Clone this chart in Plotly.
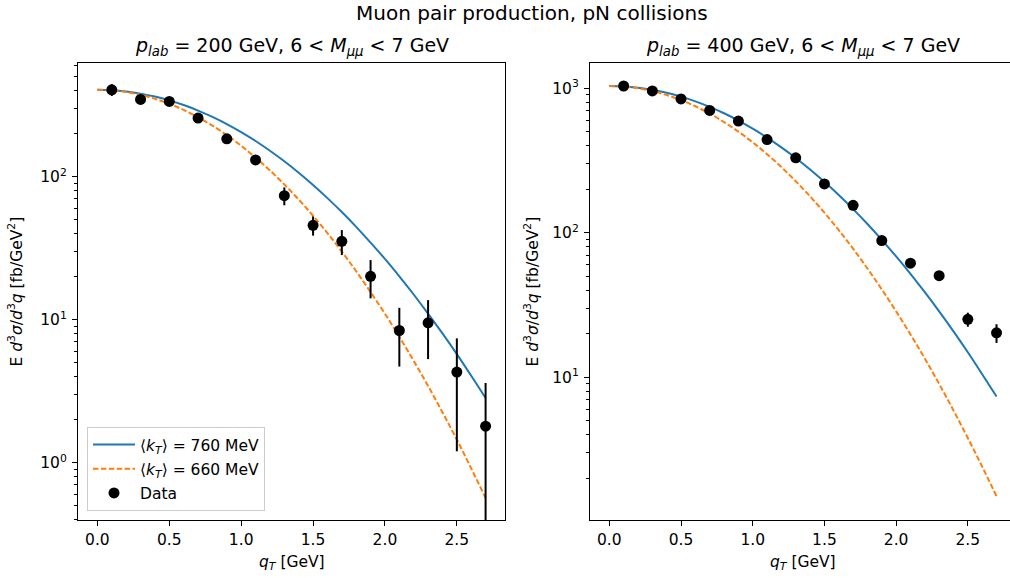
import plotly.graph_objects as go

# ---------------- data ----------------
qt_curve = [0.0, 0.1, 0.2, 0.3, 0.4, 0.5, 0.6, 0.7, 0.8, 0.9, 1.0, 1.1, 1.2, 1.3,
            1.4, 1.5, 1.6, 1.7, 1.8, 1.9, 2.0, 2.1, 2.2, 2.3, 2.4, 2.5, 2.6, 2.7]

left_760 = [405, 402.3, 394.1, 380.9, 363.2, 341.6, 316.9, 290.0, 261.8, 233.3,
            204.9, 177.6, 151.9, 128.1, 106.6, 87.5, 70.8, 56.6, 44.6, 34.6,
            26.6, 20.1, 15.0, 11.0, 8.01, 5.74, 4.05, 2.83]
left_660 = [405, 401.4, 390.7, 373.4, 350.5, 323.3, 292.8, 260.3, 227.4, 195.1,
            164.4, 136.0, 110.6, 88.3, 69.2, 53.3, 40.3, 29.9, 21.8, 15.6,
            11.0, 7.60, 5.15, 3.44, 2.25, 1.45, 0.912, 0.566]
right_760 = [1037, 1030.0, 1009.2, 975.5, 930.5, 875.1, 812.2, 743.7, 671.6, 598.4,
             525.9, 456.0, 390.1, 329.3, 274.2, 225.2, 182.4, 145.8, 115.0, 89.4,
             68.6, 52.0, 38.8, 28.6, 20.8, 14.9, 10.5, 7.36]
right_660 = [1037, 1027.7, 1000.4, 956.6, 898.1, 828.6, 750.7, 668.0, 583.9, 501.3,
             422.8, 350.2, 284.9, 227.5, 178.7, 137.7, 104.3, 77.6, 56.6, 40.6,
             28.6, 19.8, 13.5, 9.00, 5.90, 3.80, 2.41, 1.50]

qt_data = [0.1, 0.3, 0.5, 0.7, 0.9, 1.1, 1.3, 1.5, 1.7, 1.9, 2.1, 2.3, 2.5, 2.7]
left_data = [405, 347, 336, 257, 184, 131, 73.6, 45.7, 35.3, 20.1, 8.4, 9.5, 4.3, 1.8]
left_err = [38, 15, 14, 12, 9, 9, 10.5, 7, 7, 6, 3.7, 4.2, 3.1, 1.8]
right_data = [1037, 958, 844, 703, 593, 442, 330, 218, 155, 88.3, 61.6, 50.5, 25.2, 20.3]
right_err = [40, 35, 30, 25, 20, 15, 12, 8, 6, 3.5, 2.5, 2.5, 2.8, 3.0]

x_tick_vals = [0.0, 0.5, 1.0, 1.5, 2.0, 2.5]
x_tick_text = ["0.0", "0.5", "1.0", "1.5", "2.0", "2.5"]
left_y_ticks = [1, 10, 100]
left_y_text = ["10<sup>0</sup>", "10<sup>1</sup>", "10<sup>2</sup>"]
right_y_ticks = [10, 100, 1000]
right_y_text = ["10<sup>1</sup>", "10<sup>2</sup>", "10<sup>3</sup>"]

# ---------------- layout helpers ----------------
W, H = 1010, 578
FONT = "DejaVu Sans"
BLUE = "#1f77b4"
ORANGE = "#ff7f0e"
TICK_SIZE = 15.5
TITLE_SIZE = 19


def fx(p):
    return p / W


def fy(p):
    return 1 - p / H


def minor_vals(lo_dec, hi_dec):
    out = []
    for d in range(lo_dec, hi_dec + 1):
        for m in range(2, 10):
            out.append(m * 10 ** d)
    return out


fig = go.Figure()

lbl760 = "⟨<i>k</i><sub><i>T</i></sub>⟩ = 760 MeV"
lbl660 = "⟨<i>k</i><sub><i>T</i></sub>⟩ = 660 MeV"
DASH = "5.5px,2.4px"

# left panel
fig.add_trace(go.Scatter(x=qt_curve, y=left_760, mode="lines", name=lbl760,
                         line=dict(color=BLUE, width=2, shape="spline"), legendgroup="g1",
                         xaxis="x", yaxis="y"))
fig.add_trace(go.Scatter(x=qt_curve, y=left_660, mode="lines", name=lbl660,
                         line=dict(color=ORANGE, width=2, dash=DASH, shape="spline"),
                         legendgroup="g2", xaxis="x", yaxis="y"))
fig.add_trace(go.Scatter(x=qt_data, y=left_data, mode="markers", name="Data",
                         marker=dict(color="black", size=11),
                         error_y=dict(type="data", array=left_err, arrayminus=left_err,
                                      color="black", thickness=2, width=0),
                         legendgroup="g3", xaxis="x", yaxis="y"))
# right panel
fig.add_trace(go.Scatter(x=qt_curve, y=right_760, mode="lines", showlegend=False,
                         line=dict(color=BLUE, width=2, shape="spline"),
                         xaxis="x2", yaxis="y2"))
fig.add_trace(go.Scatter(x=qt_curve, y=right_660, mode="lines", showlegend=False,
                         line=dict(color=ORANGE, width=2, dash=DASH, shape="spline"),
                         xaxis="x2", yaxis="y2"))
fig.add_trace(go.Scatter(x=qt_data, y=right_data, mode="markers", showlegend=False,
                         marker=dict(color="black", size=11),
                         error_y=dict(type="data", array=right_err, arrayminus=right_err,
                                      color="black", thickness=2, width=0),
                         xaxis="x2", yaxis="y2"))

common_x = dict(showline=True, linecolor="black", linewidth=1, ticks="outside",
                ticklen=5, tickwidth=1, tickcolor="black", showgrid=False,
                zeroline=False, tickmode="array", tickvals=x_tick_vals,
                ticktext=x_tick_text,
                tickfont=dict(family=FONT, size=TICK_SIZE, color="black"),
                ticklabelstandoff=0)
common_y = dict(type="log", showline=True, linecolor="black", linewidth=1,
                ticks="outside", ticklen=5, tickwidth=1, tickcolor="black",
                showgrid=False, zeroline=False, tickmode="array",
                tickfont=dict(family=FONT, size=TICK_SIZE, color="black"),
                ticklabelstandoff=2)

y_dom = [fy(520), fy(63)]

fig.update_layout(
    width=W, height=H,
    margin=dict(l=0, r=0, t=0, b=0),
    paper_bgcolor="white", plot_bgcolor="white",
    font=dict(family=FONT, color="black", size=TICK_SIZE),
    xaxis=dict(domain=[fx(78), fx(505)], range=[-0.135, 2.835], anchor="y",
               mirror=True, **common_x),
    yaxis=dict(domain=y_dom, range=[-0.401, 2.795], anchor="x", mirror=True,
               tickvals=left_y_ticks, ticktext=left_y_text,
               minor=dict(tickmode="array", tickvals=minor_vals(-1, 2), ticks="outside",
                          ticklen=3, tickwidth=1, tickcolor="black", showgrid=False),
               **common_y),
    xaxis2=dict(domain=[fx(590), 1.0], range=[-0.1346, 2.794], anchor="y2",
                mirror=True, **common_x),
    yaxis2=dict(domain=y_dom, range=[0.0125, 3.175], anchor="x2", mirror=False,
                tickvals=right_y_ticks, ticktext=right_y_text,
                minor=dict(tickmode="array", tickvals=minor_vals(0, 3), ticks="outside",
                           ticklen=3, tickwidth=1, tickcolor="black", showgrid=False),
                **common_y),
    legend=dict(x=fx(87), y=fy(511), xanchor="left", yanchor="bottom",
                bgcolor="rgba(255,255,255,0.8)", bordercolor="#cccccc", borderwidth=1,
                font=dict(family=FONT, size=TICK_SIZE, color="black"),
                traceorder="grouped", tracegroupgap=1, itemwidth=42),
    showlegend=True,
)

sub_title = "<i>p</i><sub><i>lab</i></sub> = {} GeV, 6 &lt; <i>M</i><sub><i>μμ</i></sub> &lt; 7 GeV"
ylab = "E <i>d</i><sup>3</sup><i>σ</i>/<i>d</i><sup>3</sup><i>q</i> [fb/GeV<sup>2</sup>]"
xlab = "<i>q</i><sub><i>T</i></sub> [GeV]"

ann = [
    dict(text="Muon pair production, pN collisions", x=fx(532), y=fy(13),
         font=dict(size=20)),
    dict(text=sub_title.format(200), x=fx(291.5), y=fy(46), font=dict(size=TITLE_SIZE)),
    dict(text=sub_title.format(400), x=fx(803), y=fy(46), font=dict(size=TITLE_SIZE)),
    dict(text=xlab, x=fx(291.5), y=fy(563), font=dict(size=TICK_SIZE)),
    dict(text=xlab, x=fx(803), y=fy(563), font=dict(size=TICK_SIZE)),
    dict(text=ylab, x=fx(16), y=fy(291.5), textangle=-90, font=dict(size=TICK_SIZE)),
    dict(text=ylab, x=fx(532), y=fy(291.5), textangle=-90, font=dict(size=TICK_SIZE)),
]
for a in ann:
    a.update(xref="paper", yref="paper", showarrow=False, xanchor="center",
             yanchor="middle")
    a["font"].update(family=FONT, color="black")
fig.update_layout(annotations=ann)

fig.write_html("out.html")
